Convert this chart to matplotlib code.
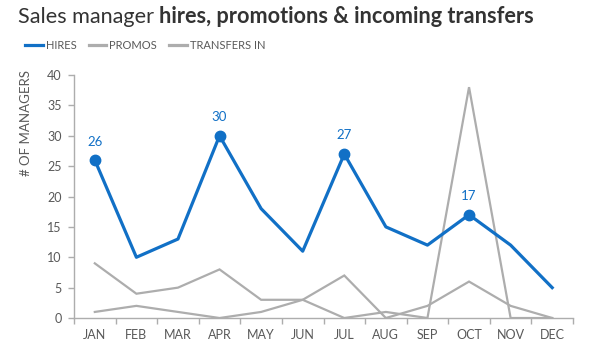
import numpy as np
import matplotlib.pyplot as plt

plt.rcParams['font.family'] = ['Lato', 'DejaVu Sans']

months = ['JAN', 'FEB', 'MAR', 'APR', 'MAY', 'JUN', 'JUL', 'AUG', 'SEP', 'OCT', 'NOV', 'DEC']
hires = [26, 10, 13, 30, 18, 11, 27, 15, 12, 17, 12, 5]
promos = [9, 4, 5, 8, 3, 3, 7, 0, 2, 6, 2, 0]
transfers_in = [1, 2, 1, 0, 1, 3, 0, 1, 0, 38, 0, 0]
labeled_months = ['JAN', 'APR', 'JUL', 'OCT']

BLUE = '#1170C6'
GREY = '#ADADAD'
TEXT = '#595959'

fig = plt.figure(figsize=(5.95, 3.62), dpi=100)
ax = fig.add_axes([0.1244, 0.1215, 0.9630 - 0.1244, 0.7928 - 0.1215])

x = np.arange(len(months))

# grey series first, blue on top
ax.plot(x, promos, color=GREY, lw=1.6, solid_joinstyle='miter', zorder=2)
ax.plot(x, transfers_in, color=GREY, lw=1.6, solid_joinstyle='miter', zorder=2)
ax.plot(x, hires, color=BLUE, lw=2.3, zorder=3)

# highlighted points
for m in labeled_months:
    i = months.index(m)
    ax.plot(x[i], hires[i], 'o', color=BLUE, ms=7.5, zorder=4)
    ax.annotate(str(hires[i]), (x[i], hires[i]), xytext=(0, 9), textcoords='offset points',
                ha='center', va='bottom', color=BLUE, fontsize=9.5)

# Axes config
ax.set_xlim(-0.5, len(months) - 0.5)
ax.set_ylim(0, 40)
ax.set_yticks(np.arange(0, 41, 5))
ax.set_xticks(x)
ax.set_xticklabels(months)
ax.set_xticks(np.arange(-0.5, len(months), 1), minor=True)
ax.tick_params(axis='x', which='major', length=0, pad=8, labelsize=9, labelcolor=TEXT)
ax.tick_params(axis='x', which='minor', length=4, width=1, color=GREY)
ax.tick_params(axis='y', length=4, width=1, color=GREY, pad=5, labelsize=9, labelcolor=TEXT)
for s in ['top', 'right']:
    ax.spines[s].set_visible(False)
for s in ['left', 'bottom']:
    ax.spines[s].set_color(GREY)
    ax.spines[s].set_linewidth(1)
ax.set_ylabel('# OF MANAGERS', color=TEXT, fontsize=9.5, loc='top')
ax.yaxis.set_label_coords(-0.084, 1.02)

# Title in two weights
t1 = fig.text(0.03, 0.925, 'Sales manager ', fontsize=15.6, color='#333333', va='bottom', ha='left')
ax.annotate('hires, promotions & incoming transfers', xy=(1, 0), xycoords=t1,
            va='bottom', ha='left', fontsize=15.6, color='#333333', fontweight='bold',
            annotation_clip=False)

# Legend
handles = [plt.Line2D([], [], color=BLUE, lw=2.3),
           plt.Line2D([], [], color=GREY, lw=2.3),
           plt.Line2D([], [], color=GREY, lw=2.3)]
fig.legend(handles, ['HIRES', 'PROMOS', 'TRANSFERS IN'], loc='center left',
           bbox_to_anchor=(0.042, 0.874), ncol=3, frameon=False, fontsize=8,
           handlelength=1.6, handletextpad=0.25, columnspacing=1.1, labelcolor=TEXT,
           borderaxespad=0, borderpad=0)

fig.savefig('out.png', dpi=100)
